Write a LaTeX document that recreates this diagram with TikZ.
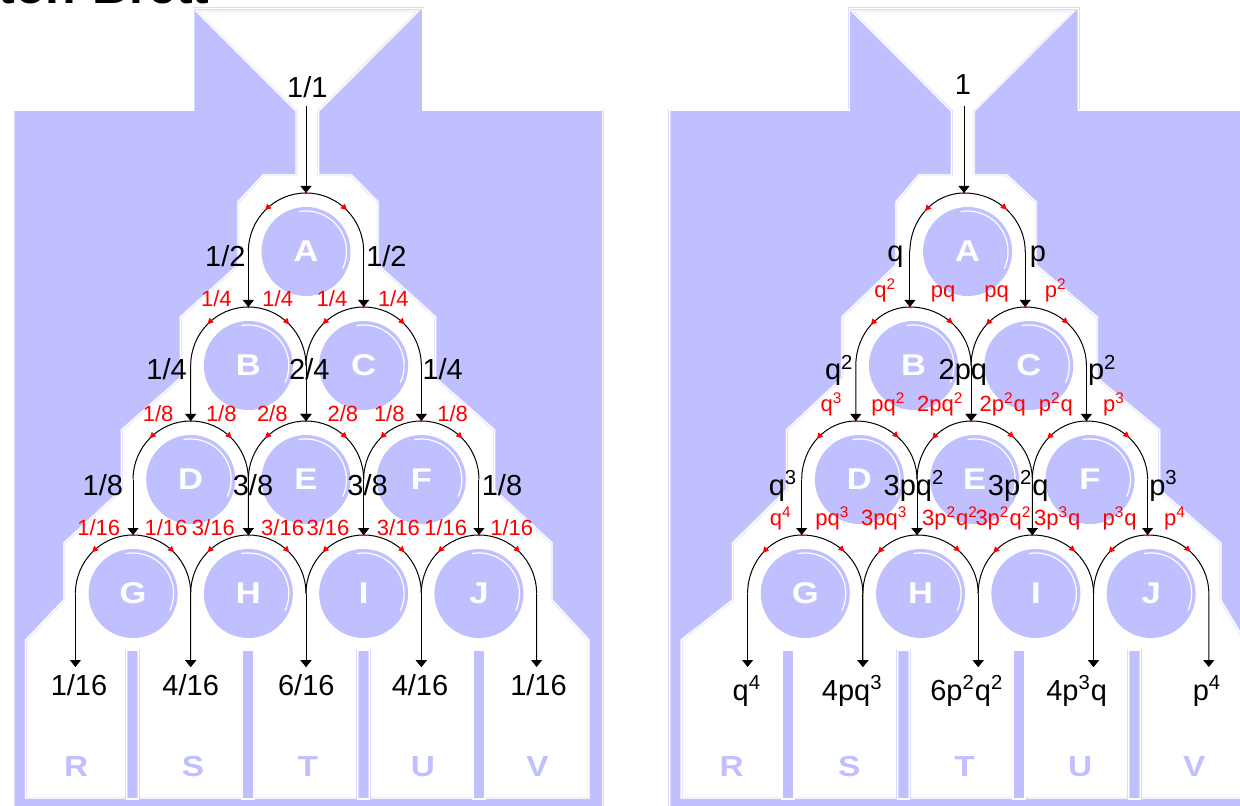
\documentclass[tikz,border=0pt]{standalone}
\usepackage{fontspec}
\setmainfont{Liberation Sans}
\newfontfamily\pegfont{Liberation Sans}[FakeStretch=1.15]
\usetikzlibrary{arrows.meta,decorations.markings}
\definecolor{board}{RGB}{192,192,255}
\definecolor{hl}{RGB}{218,218,255}
\definecolor{lred}{RGB}{255,0,0}
\newcommand\spr[1]{\textsuperscript{#1}}
\newcommand\pegname[1]{\ifcase#1 A\or B\or C\or D\or E\or F\or G\or H\or I\or J\fi}
\tikzset{
  boardfill/.style={fill=board, draw=hl, line width=0.3pt, double=white, double distance=0.6pt},
  boardhole/.style={fill=white, draw=hl, line width=0.3pt, double=white, double distance=0.6pt},
  pegnode/.style={circle, fill=board, minimum size=44.5pt, inner sep=0pt, text=white, font=\pegfont\bfseries\fontsize{15}{17}\selectfont},
  binletter/.style={text=board, font=\pegfont\bfseries\fontsize{14.5}{18}\selectfont, anchor=base, inner sep=0pt},
  blab/.style={font=\fontsize{14.5}{17}\selectfont, anchor=base, inner sep=0pt},
  rlab/.style={text=lred, font=\fontsize{11}{13}\selectfont, anchor=base, inner sep=0pt},
  arcline/.style={line width=0.5pt, postaction={decorate}, decoration={markings, mark=at position 0.5 with {\arrow[lred]{Triangle[width=3pt,length=3pt]}}}},
  feed/.style={line width=0.5pt, -{Triangle[width=5.5pt,length=3.5pt]}},
  shine/.style={white, line width=0.6pt},
}
% #1 prefix, #2 x of top arrow, #3 drift per row, #4 frame centre
\newcommand\drawboard[4]{%
  \pgfmathsetmacro\neckc{#4-1}%
  \pgfmathsetmacro\rowa{#2+2}%
  \pgfmathsetmacro\rowb{#2+#3+2}%
  \pgfmathsetmacro\rowc{#2+2*#3+2}%
  \pgfmathsetmacro\rowd{#2+3*#3+2}%
  \path[boardfill] (#4-294.5,110) -- (#4-114.6,110) -- (#4-114.6,8.5) -- (#4+114.6,8.5) -- (#4+114.6,110) -- (#4+294.5,110) -- (#4+294.5,815) -- (#4-294.5,815) -- cycle;
  \path[boardhole] (\neckc-111,11) -- (\neckc+111,11) -- (\neckc+11.2,111) -- (\neckc+11.2,175) -- (\neckc+44,175) -- (\rowa+70,202) -- (\rowa+70,265) -- (\rowb+127.5,317) -- (\rowb+127.5,378) -- (\rowc+186.5,430) -- (\rowc+186.5,490) -- (\rowd+244,543) -- (\rowd+244,600) -- (\neckc+281.5,640) -- (\neckc+281.5,798) -- (\neckc-281.5,798) -- (\neckc-281.5,640) -- (\rowd-244,600) -- (\rowd-244,543) -- (\rowc-186.5,490) -- (\rowc-186.5,430) -- (\rowb-127.5,378) -- (\rowb-127.5,317) -- (\rowa-70,265) -- (\rowa-70,202) -- (\neckc-44,175) -- (\neckc-11.2,175) -- (\neckc-11.2,111) -- cycle;
  \foreach \b in {0,...,3}{%
    \path[boardfill] ({#4-2.5+(\b-1.5)*115.5-6},650) rectangle ({#4-2.5+(\b-1.5)*115.5+6},799);
  }
  \foreach \k in {0,...,3}{%
    \foreach \j in {0,...,\k}{%
      \pgfmathtruncatemacro\pn{\k*(\k+1)/2+\j}%
      \edef\ltr{\pegname{\pn}}%
      \pgfmathsetmacro\tx{#2+\k*#3+(\j-\k/2)*115.3}%
      \pgfmathsetmacro\yt{193+114*\k}%
      \pgfmathsetmacro\hal{57.65-#3}%
      \pgfmathsetmacro\har{57.65+#3}%
      \node[pegnode] (#1\ltr) at (\tx+#3,\yt+58.5) {\ltr};
      \coordinate (#1\ltr t) at (\tx,\yt);
      \coordinate (#1\ltr l) at (\tx-\hal,\yt+58.5);
      \coordinate (#1\ltr r) at (\tx+\har,\yt+58.5);
      \draw[shine] (#1\ltr.center) ++(100:20.25pt) arc[start angle=100, end angle=-25, radius=20.25pt];
      \draw[arcline] (#1\ltr t) .. controls +(-0.5523*\hal,0) and +(0,-32.3) .. (#1\ltr l);
      \draw[arcline] (#1\ltr t) .. controls +(0.5523*\har,0) and +(0,-32.3) .. (#1\ltr r);
      \fill[lred] (#1\ltr t) circle[radius=0.7pt];
    }
  }
  \foreach \m in {0,...,4}{%
    \coordinate (#1bin\m) at ({#2+4*#3+(\m-2)*115.3},667);
  }
  \coordinate (#1in) at (#2,106);
  \draw[feed] (#1in) -- (#1At);
  \foreach \k in {0,1,2}{%
    \foreach \j in {0,...,\k}{%
      \pgfmathtruncatemacro\pn{\k*(\k+1)/2+\j}%
      \pgfmathtruncatemacro\cn{(\k+1)*(\k+2)/2+\j}%
      \pgfmathtruncatemacro\cnn{\cn+1}%
      \edef\pa{\pegname{\pn}}\edef\cha{\pegname{\cn}}\edef\chb{\pegname{\cnn}}%
      \draw[feed] (#1\pa l) -- (#1\cha t);
      \draw[feed] (#1\pa r) -- (#1\chb t);
    }
  }
  \foreach \j in {0,...,3}{%
    \pgfmathtruncatemacro\pn{6+\j}%
    \pgfmathtruncatemacro\jj{\j+1}%
    \edef\pa{\pegname{\pn}}%
    \draw[feed] (#1\pa l) -- (#1bin\j);
    \draw[feed] (#1\pa r) -- (#1bin\jj);
  }
}
\begin{document}
\begin{tikzpicture}[x=0.5pt,y=-0.5pt]
\useasboundingbox (0,0) rectangle (1240,806);
\clip (0,0) rectangle (1240,806);
\node[anchor=base east, inner sep=0pt, font=\bfseries\fontsize{25}{30}\selectfont] (title) at (210,4) {Galton-Brett};
\drawboard{L}{306}{0}{308.3}
\drawboard{R}{964}{3.55}{963.8}
% left board labels
\foreach \x/\y/\s [count=\i] in {307.3/98/{1/1}, 225.3/267/{1/2}, 386.4/267/{1/2},
  166.6/380/{1/4}, 309.3/380/{2/4}, 442.7/380/{1/4},
  102.8/495/{1/8}, 253/495/{3/8}, 367.6/495/{3/8}, 502/495/{1/8},
  79/695/{1/16}, 190.7/695/{4/16}, 306.3/695/{6/16}, 420/695/{4/16}, 538.5/695/{1/16}}
  \node[blab] (Lk\i) at (\x,\y) {\s};
\foreach \x/\y/\s [count=\i] in {216.4/307/{1/4}, 277.7/307/{1/4}, 332/307/{1/4}, 393.3/307/{1/4},
  158.1/422/{1/8}, 221.3/422/{1/8}, 272.3/422/{2/8}, 342.9/422/{2/8}, 389.3/422/{1/8}, 452.6/422/{1/8},
  98.8/535/{1/16}, 166/535/{1/16}, 213.4/535/{3/16}, 282.6/535/{3/16}, 328/535/{3/16}, 398.4/535/{3/16}, 445.7/535/{1/16}, 511.8/535/{1/16}}
  \node[rlab] (Lr\i) at (\x,\y) {\s};
\foreach \x/\s [count=\i] in {76.1/R, 193.1/S, 307.7/T, 422.9/U, 537.5/V}
  \node[binletter] (Lbin\s) at (\x,776) {\s};
% right board labels
\foreach \x/\y/\s [count=\i] in {962.9/95/{1}, 895.3/262/{q}, 1038/262/{p},
  839.3/380/{q\spr{2}}, 962.9/380/{2pq}, 1102.2/380/{p\spr{2}},
  783/495/{q\spr{3}}, 914/495/{3pq\spr{2}}, 1018.2/495/{3p\spr{2}q}, 1163.5/495/{p\spr{3}},
  746.9/700/{q\spr{4}}, 852.2/700/{4pq\spr{3}}, 966.8/700/{6p\spr{2}q\spr{2}}, 1076.6/700/{4p\spr{3}q}, 1207/700/{p\spr{4}}}
  \node[blab] (Rk\i) at (\x,\y) {\s};
\foreach \x/\y/\s [count=\i] in {885.2/297.5/{q\spr{2}}, 943.2/297.5/{pq}, 996.5/297.5/{pq}, 1055.8/297.5/{p\spr{2}},
  831.5/411.5/{q\spr{3}}, 888.4/411.5/{pq\spr{2}}, 940.2/411.5/{2pq\spr{2}}, 1002.8/411.5/{2p\spr{2}q}, 1055.8/411.5/{p\spr{2}q}, 1114.1/411.5/{p\spr{3}},
  780.7/525.5/{q\spr{4}}, 832.5/525.5/{pq\spr{3}}, 884.2/525.5/{3pq\spr{3}}, 950/525.5/{3p\spr{2}q\spr{2}}, 1003.4/525.5/{3p\spr{2}q\spr{2}}, 1057.2/525.5/{3p\spr{3}q}, 1119.6/525.5/{p\spr{3}q}, 1174.9/525.5/{p\spr{4}}}
  \node[rlab] (Rr\i) at (\x,\y) {\s};
\foreach \x/\s [count=\i] in {731.7/R, 849.3/S, 964.5/T, 1080.1/U, 1194.1/V}
  \node[binletter] (Rbin\s) at (\x,776) {\s};
\end{tikzpicture}
\end{document}
